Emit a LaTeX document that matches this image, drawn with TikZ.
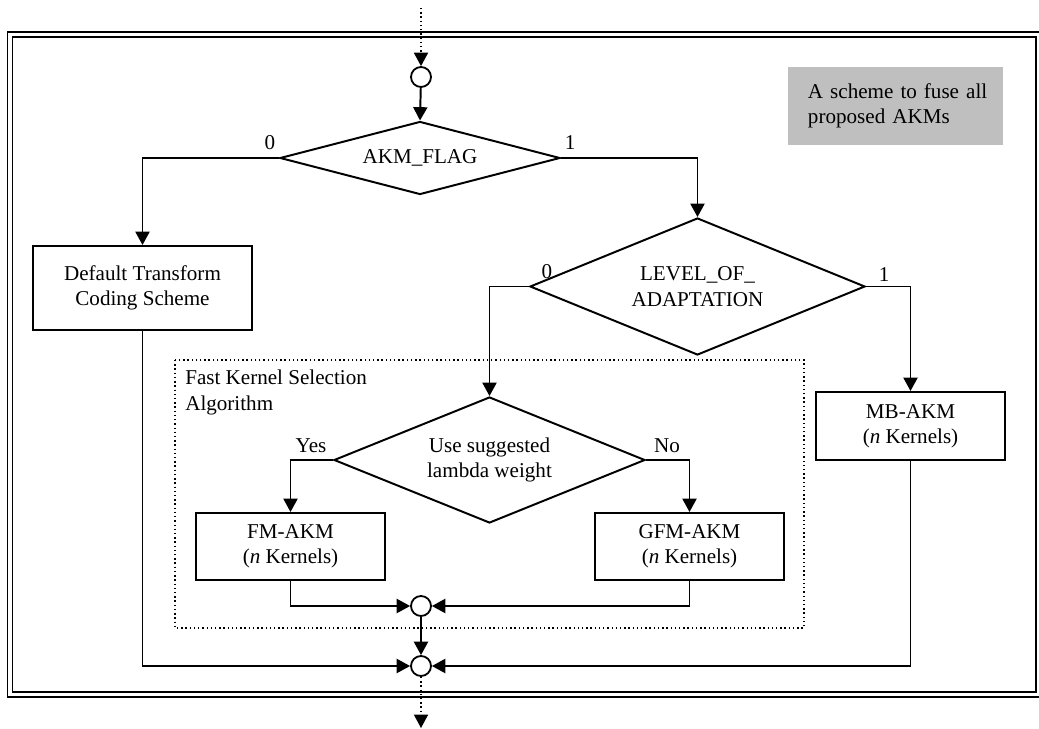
\documentclass[tikz,border=0pt]{standalone}
\usepackage{fontspec}
\setmainfont{Liberation Serif}
\usepackage{tikz}
\usetikzlibrary{shapes.geometric,arrows.meta,positioning,calc}

\begin{document}
\begin{tikzpicture}[
    x=0.025cm, y=-0.025cm,
    font=\fontsize{15}{18}\selectfont,
    >={Triangle[length=9.5pt,width=10pt]},
    flow/.style={line width=1.4pt},
    dotflow/.style={line width=1pt, dotted},
    box/.style={rectangle, draw, line width=1.4pt, align=center, inner sep=0pt},
    decision/.style={diamond, draw, line width=1.4pt, align=center, inner sep=0pt},
    junction/.style={circle, draw, line width=1.3pt, fill=white, minimum size=0.5cm, inner sep=0pt},
    note/.style={rectangle, fill=black!25, align=left, inner sep=0pt, text width=5.375cm}
]
\useasboundingbox (0,0) rectangle (1039,729);

% Outer double frame
\draw[line width=1.2pt, double, double distance=2.2pt] (10,34.5) rectangle (1038.5,694.5);

% Note box
\node[note, minimum height=1.95cm] (note) at (895.5,106) {\hspace*{0.5cm}\parbox[c]{4.8cm}{A scheme to fuse all\\ proposed AKMs}};

% Junctions
\node[junction] (jin) at (421,77) {};
\node[junction] (jfks) at (421,606) {};
\node[junction] (jout) at (421,666) {};
\coordinate (src) at (421,8);
\coordinate (snk) at (421,728);

% Decisions
\node[decision, aspect=3.8, minimum width=7cm, minimum height=1.825cm] (flag) at (420,158) {AKM\_FLAG};
\node[decision, aspect=2.45, minimum width=8.375cm, minimum height=3.425cm] (level) at (697.5,286.5) {LEVEL\_OF\_\\ ADAPTATION};
\node[decision, aspect=2.47, minimum width=7.775cm, minimum height=3.15cm] (lambda) at (489.5,460) {Use suggested\\ lambda weight};

% Process boxes
\node[box, minimum width=5.475cm, minimum height=2.1cm] (default) at (142.5,288) {Default Transform\\ Coding Scheme};
\node[box, minimum width=4.725cm, minimum height=1.7cm] (mbakm) at (910.5,426) {MB-AKM\\ (\textit{n} Kernels)};
\node[box, minimum width=4.725cm, minimum height=1.675cm] (fmakm) at (290.5,546.5) {FM-AKM\\ (\textit{n} Kernels)};
\node[box, minimum width=4.725cm, minimum height=1.675cm] (gfmakm) at (689.5,546.5) {GFM-AKM\\ (\textit{n} Kernels)};

% Fast kernel selection group
\draw[dotflow] (175,360) rectangle (804,628);
\node[align=left, anchor=north west, inner sep=0pt] (fksel) at (185,370) {Fast Kernel Selection\\ Algorithm};

% Branch labels
\node (f0) at ([shift={(-9,-15)}]flag.west) {0};
\node (f1) at ([shift={(9,-15)}]flag.east) {1};
\node (l0) at ([shift={(18,-15)}]level.west) {0};
\node (l1) at ([shift={(18,-12)}]level.east) {1};
\node (uyes) at ([shift={(-22,-14)}]lambda.west) {Yes};
\node (uno) at ([shift={(21,-14)}]lambda.east) {No};

% Connections
\draw[dotflow, ->] (src) -- (jin);
\draw[flow, ->] (jin) -- (flag.north);
\draw[flow, ->] (flag.west) -| (default.north);
\draw[flow, ->] (flag.east) -| (level.north);
\draw[flow, ->] (level.west) -| (lambda.north);
\draw[flow, ->] (level.east) -| (mbakm.north);
\draw[flow, ->] (lambda.west) -| (fmakm.north);
\draw[flow, ->] (lambda.east) -| (gfmakm.north);
\draw[flow, ->] (fmakm.south) |- (jfks.west);
\draw[flow, ->] (gfmakm.south) |- (jfks.east);
\draw[flow, ->] (jfks) -- (jout);
\draw[flow, ->] (default.south) |- (jout.west);
\draw[flow, ->] (mbakm.south) |- (jout.east);
\draw[dotflow, ->] (jout) -- (snk);

\end{tikzpicture}
\end{document}
